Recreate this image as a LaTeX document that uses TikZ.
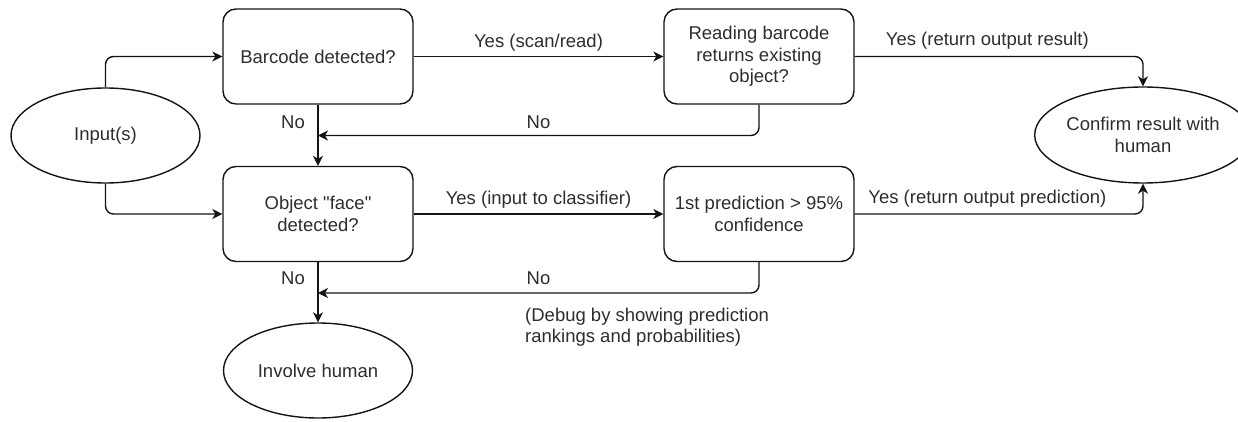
\documentclass[tikz,border=0pt]{standalone}
\usepackage{fontspec}
\defaultfontfeatures[\rmfamily]{}
\setmainfont{Liberation Sans}
\usetikzlibrary{shapes.geometric,arrows.meta}
\definecolor{txt}{RGB}{45,45,45}
\definecolor{ln}{RGB}{20,20,20}
\tikzset{
  base/.style={draw=ln, line width=1.4pt, text=txt, align=center, inner sep=0pt,
    font=\fontsize{18.5}{21.5}\selectfont},
  box/.style={base, rectangle, rounded corners=13pt, minimum width=190pt, minimum height=95pt},
  oval/.style={base, ellipse, minimum width=189pt, minimum height=95pt},
  arr/.style={draw=ln, line width=1.4pt, rounded corners=8pt, -{Stealth[length=10pt,width=10pt,inset=3pt]}},
  lbl/.style={text=txt, inner sep=0pt, font=\fontsize{18.5}{21.5}\selectfont}
}
\begin{document}
\begin{tikzpicture}[x=1pt,y=-1pt]
\useasboundingbox (0,0) rectangle (1238,422);
\node[oval] (in) at (105.5,135.5) {Input(s)};
\node[box] (bar) at (318,56.5) {Barcode detected?};
\node[box] (read) at (759,56.5) {Reading barcode\\returns existing\\object?};
\node[box] (face) at (318,214) {Object "face"\\detected?};
\node[box] (pred) at (759,214) {1st prediction > 95\%\\confidence};
\node[oval, minimum width=188pt, minimum height=96pt] (conf) at (1143,135) {Confirm result with\\human};
\node[oval] (inv) at (318,370.5) {Involve human};
\coordinate (j1) at (318,135.5);
\coordinate (j2) at (318,293);

\draw[arr] (in.north) |- (bar.west);
\draw[arr] (in.south) |- (face.west);
\draw[arr] (bar.east) -- node[lbl, yshift=14pt] {Yes (scan/read)} (read.west);
\draw[arr] (bar.south) -- node[lbl, xshift=-25pt, yshift=13.5pt] {No} (face.north);
\draw[arr] (read.south) |- node[lbl, pos=0.75, yshift=13.5pt] {No} (j1);
\draw[arr] (read.east) -| node[lbl, pos=0.23, yshift=16pt] {Yes (return output result)} (conf.north);
\draw[arr] (face.east) -- node[lbl, yshift=14pt] {Yes (input to classifier)} (pred.west);
\draw[arr] (pred.east) -| node[lbl, pos=0.23, yshift=15pt] {Yes (return output prediction)} (conf.south);
\draw[arr] (face.south) -- node[lbl, pos=0.26, xshift=-25pt] {No} (inv.north);
\draw[arr] (pred.south) |- node[lbl, pos=0.75, yshift=15pt] {No} (j2);
\node[lbl, anchor=west, align=left] (dbg) at (525,327) {(Debug by showing prediction\\rankings and probabilities)};
\end{tikzpicture}
\end{document}
